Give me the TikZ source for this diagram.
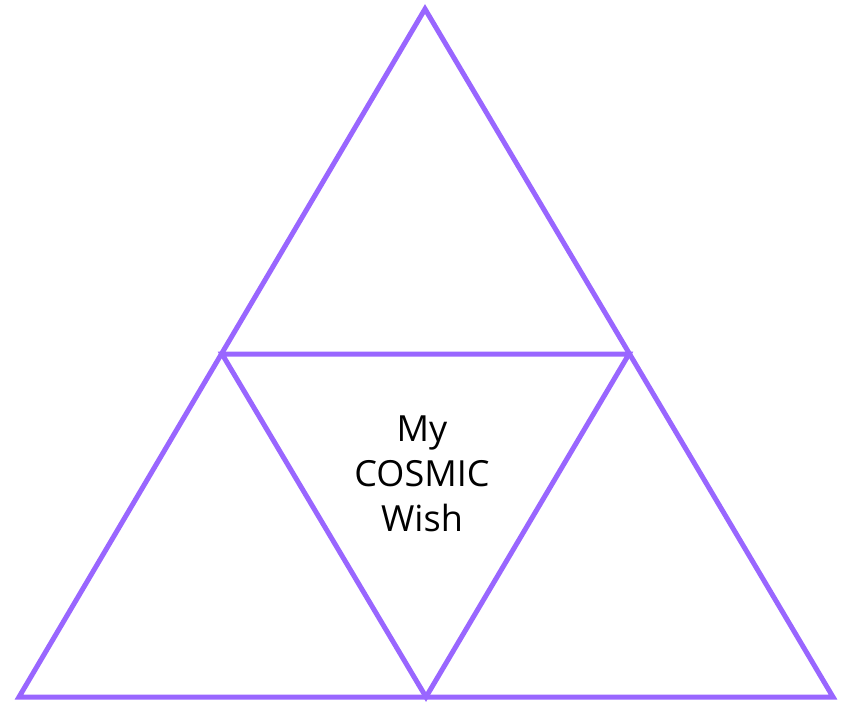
\documentclass[tikz,border=0pt]{standalone}
\usepackage{fontspec}
\setmainfont{Open Sans}
\definecolor{tri}{HTML}{9966FF}
\begin{document}
\begin{tikzpicture}[x=1pt,y=-1pt,
  edge/.style={draw=tri,line width=5pt,line join=miter},
  label/.style={font=\fontsize{36}{45}\selectfont,align=center,text=black}]
\useasboundingbox (0,0) rectangle (846,702);
\coordinate (T) at (425,9);
\coordinate (L) at (19,697);
\coordinate (R) at (833,697);
\coordinate (ML) at (222,354);
\coordinate (MR) at (629,354);
\coordinate (MB) at (426,697);
\draw[edge] (T) -- (L) -- (R) -- cycle;
\draw[edge] (ML) -- (MR) -- (MB) -- cycle;
\node[label] (wish) at (422,474) {My\\COSMIC\\Wish};
\end{tikzpicture}
\end{document}
